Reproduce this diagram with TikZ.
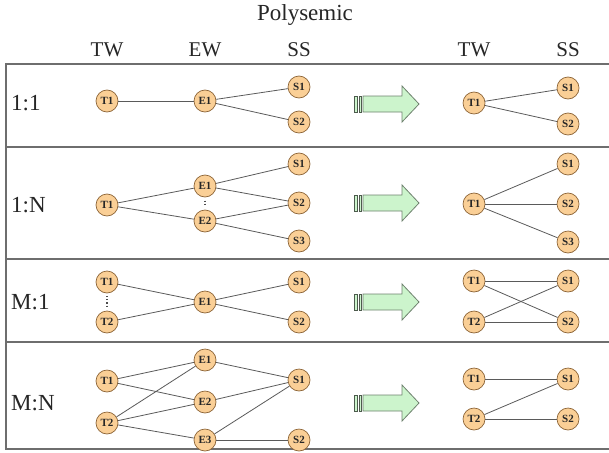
\documentclass[tikz,border=0pt]{standalone}
\usepackage{fontspec}
\setmainfont{Liberation Serif}
\usetikzlibrary{calc}
\definecolor{nodefill}{RGB}{250,207,150}
\definecolor{nodedraw}{RGB}{140,100,55}
\definecolor{edgecol}{RGB}{90,90,90}
\definecolor{arrfill}{RGB}{204,244,204}
\definecolor{arrdraw}{RGB}{110,130,110}
\definecolor{gridcol}{RGB}{110,110,110}
\tikzset{
  nd/.style={circle, minimum size=22pt, inner sep=0pt, fill=nodefill, draw=nodedraw, line width=0.7pt,
    font=\fontsize{11}{11}\selectfont\bfseries, text=black!85},
  edge/.style={draw=edgecol, line width=0.8pt},
  lab/.style={font=\fontsize{21}{24}\selectfont, inner sep=0pt, text=black!85},
  rlab/.style={font=\fontsize{23}{26}\selectfont, inner sep=0pt, text=black!85},
  grid/.style={draw=gridcol, line width=1.3pt},
  dotsl/.style={draw=black!70, line width=1.2pt, dotted},
  barrow/.pic={
    \path[fill=arrfill, draw=arrdraw, line width=0.8pt]
      (-24,-8) -- (15,-8) -- (15,-18) -- (32,0) -- (15,18) -- (15,8) -- (-24,8) -- cycle;
    \path[fill=arrfill, draw=arrdraw!70!black, line width=0.8pt] (-28,-8) rectangle (-25.5,8);
    \path[fill=arrfill, draw=arrdraw!70!black, line width=0.8pt] (-32.5,-8) rectangle (-30,8);
  }
}
\begin{document}
\begin{tikzpicture}[x=1pt,y=-1pt]
\useasboundingbox (0,0) rectangle (609,452);
% headers
\node[lab, font=\fontsize{23}{26}\selectfont] (poly) at (305,15) {Polysemic};
\node[lab] (htw1) at (107,50) {TW};
\node[lab] (hew) at (205,50) {EW};
\node[lab] (hss1) at (299,50) {SS};
\node[lab] (htw2) at (474,50) {TW};
\node[lab] (hss2) at (568,50) {SS};
% grid
\draw[grid] (609,64) -- (6,64) -- (6,449) -- (609,449);
\draw[grid] (6,147) -- (609,147);
\draw[grid] (6,259) -- (609,259);
\draw[grid] (6,342) -- (609,342);
% row labels
\node[rlab, anchor=west] (r1) at (11,103) {1:1};
\node[rlab, anchor=west] (r2) at (11,205) {1:N};
\node[rlab, anchor=west] (r3) at (11,302) {M:1};
\node[rlab, anchor=west] (r4) at (11,403) {M:N};
% arrows
\pic at (387,104) {barrow};
\pic at (387,203) {barrow};
\pic at (387,302) {barrow};
\pic at (387,403) {barrow};

% ---- Row 1
\node[nd] (a1t1) at (107,101) {T1};
\node[nd] (a1e1) at (205,101) {E1};
\node[nd] (a1s1) at (299,87) {S1};
\node[nd] (a1s2) at (299,122) {S2};
\draw[edge] (a1t1) -- (a1e1);
\draw[edge] (a1e1) -- (a1s1);
\draw[edge] (a1e1) -- (a1s2);
\node[nd] (b1t1) at (474,103) {T1};
\node[nd] (b1s1) at (568,88) {S1};
\node[nd] (b1s2) at (568,124) {S2};
\draw[edge] (b1t1) -- (b1s1);
\draw[edge] (b1t1) -- (b1s2);

% ---- Row 2
\node[nd] (a2t1) at (107,205) {T1};
\node[nd] (a2e1) at (205,186) {E1};
\node[nd] (a2e2) at (205,221) {E2};
\node[nd] (a2s1) at (299,164) {S1};
\node[nd] (a2s2) at (299,203) {S2};
\node[nd] (a2s3) at (299,241) {S3};
\draw[dotsl] ($(a2e1)!0.5!(a2e2)+(0,-3)$) -- ($(a2e1)!0.5!(a2e2)+(0,3)$);
\draw[edge] (a2t1) -- (a2e1);
\draw[edge] (a2t1) -- (a2e2);
\draw[edge] (a2e1) -- (a2s1);
\draw[edge] (a2e1) -- (a2s2);
\draw[edge] (a2e2) -- (a2s2);
\draw[edge] (a2e2) -- (a2s3);
\node[nd] (b2t1) at (474,204) {T1};
\node[nd] (b2s1) at (568,164) {S1};
\node[nd] (b2s2) at (568,204) {S2};
\node[nd] (b2s3) at (568,242) {S3};
\draw[edge] (b2t1) -- (b2s1);
\draw[edge] (b2t1) -- (b2s2);
\draw[edge] (b2t1) -- (b2s3);

% ---- Row 3
\node[nd] (a3t1) at (107,282) {T1};
\node[nd] (a3t2) at (107,322) {T2};
\node[nd] (a3e1) at (205,302) {E1};
\node[nd] (a3s1) at (299,282) {S1};
\node[nd] (a3s2) at (299,322) {S2};
\draw[dotsl] ($(a3t1)!0.5!(a3t2)+(0,-6)$) -- ($(a3t1)!0.5!(a3t2)+(0,6)$);
\draw[edge] (a3t1) -- (a3e1);
\draw[edge] (a3t2) -- (a3e1);
\draw[edge] (a3e1) -- (a3s1);
\draw[edge] (a3e1) -- (a3s2);
\node[nd] (b3t1) at (474,281) {T1};
\node[nd] (b3t2) at (474,322) {T2};
\node[nd] (b3s1) at (568,281) {S1};
\node[nd] (b3s2) at (568,322) {S2};
\draw[edge] (b3t1) -- (b3s1);
\draw[edge] (b3t1) -- (b3s2);
\draw[edge] (b3t2) -- (b3s1);
\draw[edge] (b3t2) -- (b3s2);

% ---- Row 4
\node[nd] (a4t1) at (107,381) {T1};
\node[nd] (a4t2) at (107,423) {T2};
\node[nd] (a4e1) at (205,360) {E1};
\node[nd] (a4e2) at (205,402) {E2};
\node[nd] (a4e3) at (205,440) {E3};
\node[nd] (a4s1) at (299,380) {S1};
\node[nd] (a4s2) at (299,440) {S2};
\draw[edge] (a4t1) -- (a4e1);
\draw[edge] (a4t1) -- (a4e2);
\draw[edge] (a4t2) -- (a4e1);
\draw[edge] (a4t2) -- (a4e2);
\draw[edge] (a4t2) -- (a4e3);
\draw[edge] (a4e1) -- (a4s1);
\draw[edge] (a4e2) -- (a4s1);
\draw[edge] (a4e3) -- (a4s1);
\draw[edge] (a4e3) -- (a4s2);
\node[nd] (b4t1) at (474,379) {T1};
\node[nd] (b4t2) at (474,419) {T2};
\node[nd] (b4s1) at (568,379) {S1};
\node[nd] (b4s2) at (568,419) {S2};
\draw[edge] (b4t1) -- (b4s1);
\draw[edge] (b4t2) -- (b4s1);
\draw[edge] (b4t2) -- (b4s2);
\end{tikzpicture}
\end{document}
